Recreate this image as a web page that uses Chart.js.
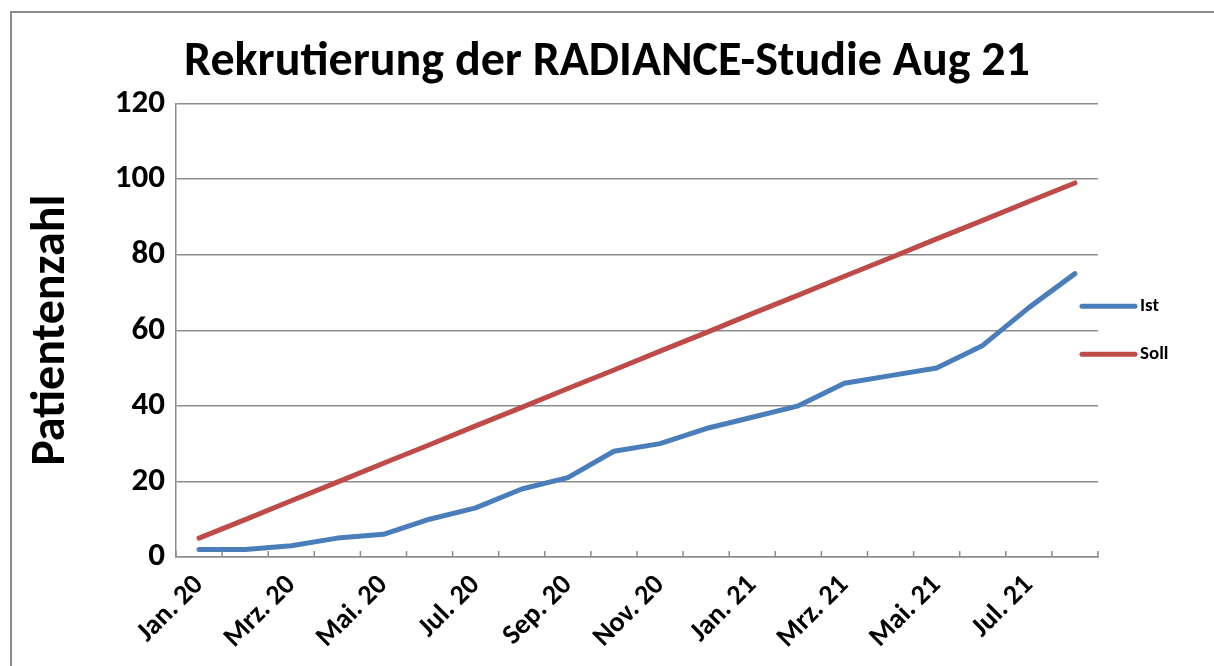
<!DOCTYPE html>
<html>
<head>
<meta charset="utf-8">
<script src="https://cdn.jsdelivr.net/npm/chart.js@4.4.1/dist/chart.umd.min.js"></script>
<style>
    html, body { margin: 0; padding: 0; background: #fff; }
    body { width: 1214px; height: 666px; position: relative; overflow: hidden; }
    #frame { position: absolute; left: 10px; top: 11px; width: 1300px; height: 800px;
             border-left: 2px solid #8c8c8c; border-top: 2px solid #8c8c8c; }
    #chart { position: absolute; left: 0; top: 0; }
</style>
</head>
<body>
<div id="frame"></div>
<canvas id="chart" width="1214" height="666"></canvas>
<script>
const FONT = "Carlito, 'Liberation Sans Narrow', 'Open Sans', sans-serif";

// months Jan. 20 .. Aug. 21
const months = ["Jan. 20", "Feb. 20", "Mrz. 20", "Apr. 20", "Mai. 20", "Jun. 20", "Jul. 20", "Aug. 20",
    "Sep. 20", "Okt. 20", "Nov. 20", "Dez. 20", "Jan. 21", "Feb. 21", "Mrz. 21", "Apr. 21",
    "Mai. 21", "Jun. 21", "Jul. 21", "Aug. 21"];

const ist = [2, 2, 3, 5, 6, 10, 13, 18, 21, 28, 30, 34, 37, 40, 46, 48, 50, 56, 66, 75];
const soll = [5, 9.9, 14.9, 19.8, 24.8, 29.7, 34.7, 39.6, 44.6, 49.5, 54.5, 59.4, 64.4, 69.3, 74.3,
    79.2, 84.2, 89.1, 94.1, 99];

const yMin = 0;
const yMax = 120;
const yStep = 20;

const gridColor = '#8c8c8c';

// small tick marks pointing up into the plot, between the months
const innerTicks = {
    id: 'innerTicks',
    afterDatasetsDraw(chart) {
        const xs = chart.scales.x;
        const area = chart.chartArea;
        const ctx = chart.ctx;
        const n = chart.data.labels.length;
        ctx.save();
        ctx.strokeStyle = gridColor;
        ctx.lineWidth = 1.5;
        for (let i = 0; i <= n; i++) {
            const px = xs.left + i * xs.width / n;
            ctx.beginPath();
            ctx.moveTo(px, area.bottom);
            ctx.lineTo(px, area.bottom - 6);
            ctx.stroke();
        }
        ctx.restore();
    }
};

// legend at the right edge, overlapping the plot a bit (like the original)
const sideLegend = {
    id: 'sideLegend',
    afterDraw(chart) {
        const ctx = chart.ctx;
        const area = chart.chartArea;
        const mid = (area.top + area.bottom) / 2;
        chart.data.datasets.forEach((ds, i) => {
            const y = mid - 24 + i * 48;
            const x0 = area.right - 16;
            ctx.save();
            ctx.strokeStyle = ds.borderColor;
            ctx.lineWidth = 5;
            ctx.lineCap = 'round';
            ctx.beginPath();
            ctx.moveTo(x0, y);
            ctx.lineTo(x0 + 53, y);
            ctx.stroke();
            ctx.fillStyle = '#000';
            ctx.font = 'bold 19px ' + FONT;
            ctx.textBaseline = 'middle';
            ctx.fillText(ds.label, x0 + 58, y);
            ctx.restore();
        });
    }
};

const ctx = document.getElementById('chart').getContext('2d');
new Chart(ctx, {
    type: 'line',
    data: {
        labels: months,
        datasets: [{
            label: 'Ist',
            data: ist,
            borderColor: '#4a7ebb',
            backgroundColor: '#4a7ebb',
            borderWidth: 5,
            borderCapStyle: 'round',
            borderJoinStyle: 'round',
            pointRadius: 0,
            tension: 0
        }, {
            label: 'Soll',
            data: soll,
            borderColor: '#be4b48',
            backgroundColor: '#be4b48',
            borderWidth: 5,
            borderCapStyle: 'round',
            borderJoinStyle: 'round',
            pointRadius: 0,
            tension: 0
        }]
    },
    options: {
        responsive: false,
        animation: false,
        devicePixelRatio: 1,
        layout: { padding: { left: 0, right: 0, top: 0, bottom: 0 } },
        plugins: {
            legend: { display: false },
            tooltip: { enabled: false },
            title: {
                display: true,
                text: 'Rekrutierung der RADIANCE-Studie Aug 21',
                color: '#000',
                font: { family: FONT, size: 48, weight: 'bold' },
                padding: { top: 34, bottom: 12 }
            }
        },
        scales: {
            x: {
                offset: true,
                grid: { display: false, drawTicks: false },
                border: { display: true, color: gridColor, width: 1.5 },
                ticks: {
                    autoSkip: false,
                    maxRotation: 45,
                    minRotation: 45,
                    padding: 12,
                    color: '#000',
                    font: { family: FONT, size: 28, weight: 'bold' },
                    callback: function (value, index) {
                        return index % 2 === 0 ? this.getLabelForValue(value) : '';
                    }
                },
                afterFit(scale) { scale.height = 109; }
            },
            y: {
                min: yMin,
                max: yMax,
                grid: { color: gridColor, lineWidth: 1.5, drawTicks: false },
                border: { display: true, color: gridColor, width: 1.5 },
                ticks: {
                    stepSize: yStep,
                    padding: 11,
                    color: '#000',
                    font: { family: FONT, size: 33, weight: 'bold' }
                },
                title: {
                    display: true,
                    text: 'Patientenzahl',
                    color: '#000',
                    font: { family: FONT, size: 48, weight: 'bold' },
                    padding: { top: 23, bottom: 0 }
                },
                afterFit(scale) { scale.width = 176; }
            },
            // empty strip on the right that holds the legend
            side: {
                position: 'right',
                display: true,
                grid: { display: false },
                border: { display: false },
                ticks: { display: false },
                afterFit(scale) { scale.width = 116; }
            }
        }
    },
    plugins: [innerTicks, sideLegend]
});
</script>
</body>
</html>
